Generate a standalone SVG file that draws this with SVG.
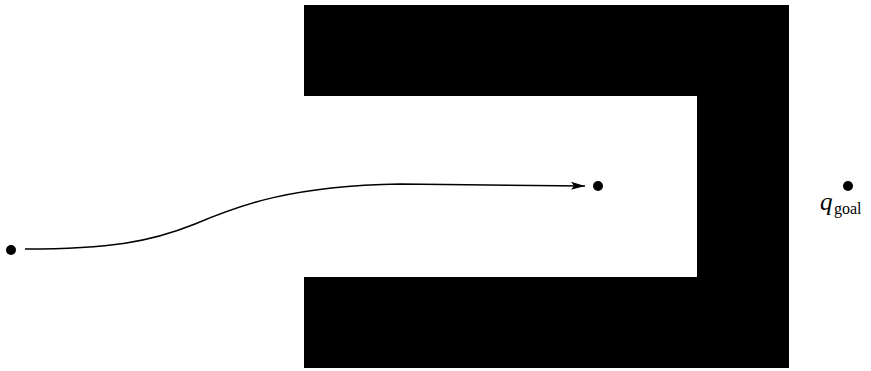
<svg xmlns="http://www.w3.org/2000/svg" width="871" height="371" viewBox="0 0 871 371">
<style>
.obs{fill:#000}
.dot{fill:#000}
.path{fill:none;stroke:#000;stroke-width:1.5}
.lbl{font-family:"Liberation Serif",serif;fill:#000}
</style>
<defs>
<marker id="ah" markerWidth="14" markerHeight="10" refX="14" refY="5" orient="auto" markerUnits="userSpaceOnUse">
<path d="M0,1 L14,5 L0,9 L3,5 Z" fill="#000"/>
</marker>
</defs>
<rect width="871" height="371" fill="#fff"/>
<g id="obstacle">
<path class="obs" d="M304,5 H789 V368 H304 V277 H697 V96 H304 Z"/>
</g>
<g id="start"><circle class="dot" cx="11" cy="250" r="5"/></g>
<g id="intermediate"><circle class="dot" cx="598" cy="186" r="5"/></g>
<g id="goal">
<circle class="dot" cx="848" cy="186" r="5"/>
<text class="lbl" x="820" y="210" font-size="25" font-style="italic">q</text>
<text class="lbl" x="834" y="214" font-size="16">goal</text>
</g>
<g id="connectors">
<path class="path" d="M25,249 C110,249 150,242 195,224 C240,205 290,186 400,184 L585,186" marker-end="url(#ah)"/>
</g>
</svg>
